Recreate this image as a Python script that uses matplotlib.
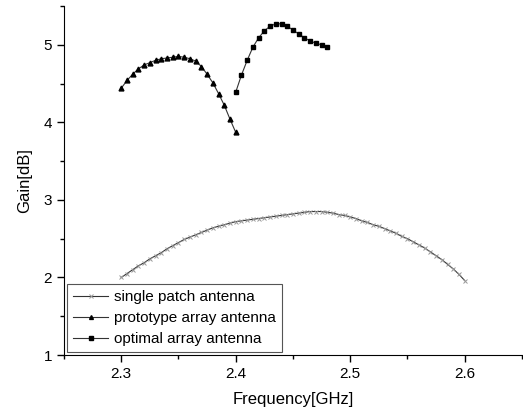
import matplotlib
matplotlib.use('Agg')
import matplotlib.pyplot as plt
from matplotlib.ticker import MultipleLocator

plt.rcParams['font.family'] = ['Liberation Sans', 'DejaVu Sans']

# single patch antenna, 2.300 .. 2.600 GHz, step 0.005
single_freq = [2.300, 2.305, 2.310, 2.315, 2.320, 2.325, 2.330, 2.335, 2.340, 2.345,
               2.350, 2.355, 2.360, 2.365, 2.370, 2.375, 2.380, 2.385, 2.390, 2.395,
               2.400, 2.405, 2.410, 2.415, 2.420, 2.425, 2.430, 2.435, 2.440, 2.445,
               2.450, 2.455, 2.460, 2.465, 2.470, 2.475, 2.480, 2.485, 2.490, 2.495,
               2.500, 2.505, 2.510, 2.515, 2.520, 2.525, 2.530, 2.535, 2.540, 2.545,
               2.550, 2.555, 2.560, 2.565, 2.570, 2.575, 2.580, 2.585, 2.590, 2.595,
               2.600]
single_gain = [2.00, 2.05, 2.10, 2.15, 2.19, 2.24, 2.28, 2.32, 2.37, 2.41,
               2.45, 2.49, 2.52, 2.55, 2.58, 2.61, 2.64, 2.66, 2.68, 2.70,
               2.72, 2.73, 2.74, 2.75, 2.76, 2.77, 2.78, 2.79, 2.80, 2.81,
               2.82, 2.83, 2.84, 2.85, 2.85, 2.85, 2.84, 2.83, 2.81, 2.80,
               2.78, 2.76, 2.73, 2.71, 2.68, 2.66, 2.63, 2.60, 2.57, 2.53,
               2.50, 2.46, 2.42, 2.38, 2.33, 2.28, 2.23, 2.17, 2.11, 2.04,
               1.96]

# prototype array antenna
proto_freq = [2.300, 2.305, 2.310, 2.315, 2.320, 2.325, 2.330, 2.335, 2.340, 2.345,
              2.350, 2.355, 2.360, 2.365, 2.370, 2.375, 2.380, 2.385, 2.390, 2.395,
              2.400]
proto_gain = [4.44, 4.54, 4.62, 4.69, 4.74, 4.77, 4.80, 4.82, 4.83, 4.84,
              4.85, 4.84, 4.82, 4.79, 4.72, 4.62, 4.51, 4.37, 4.22, 4.04,
              3.87]

# optimal array antenna
opt_freq = [2.400, 2.405, 2.410, 2.415, 2.420, 2.425, 2.430, 2.435, 2.440,
            2.445, 2.450, 2.455, 2.460, 2.465, 2.470, 2.475, 2.480]
opt_gain = [4.39, 4.61, 4.80, 4.97, 5.09, 5.18, 5.24, 5.27, 5.27,
            5.24, 5.19, 5.14, 5.09, 5.05, 5.02, 5.00, 4.97]

fig = plt.figure(figsize=(5.23, 4.12), dpi=100)
ax = fig.add_axes([0.1224, 0.1383, 0.8756, 0.8471])

ax.plot(single_freq, single_gain, color='#333333', lw=0.8, marker='x', ms=3,
        mec='#999999', mew=0.7, label='single patch antenna')
ax.plot(proto_freq, proto_gain, color='#333333', lw=0.8, marker='^', ms=3.5,
        mfc='black', mec='black', label='prototype array antenna')
ax.plot(opt_freq, opt_gain, color='#333333', lw=0.8, marker='s', ms=3,
        mfc='black', mec='black', label='optimal array antenna')

ax.set_xlim(2.25, 2.65)
ax.set_ylim(1, 5.5)
ax.xaxis.set_major_locator(MultipleLocator(0.1))
ax.xaxis.set_minor_locator(MultipleLocator(0.05))
ax.yaxis.set_major_locator(MultipleLocator(1))
ax.yaxis.set_minor_locator(MultipleLocator(0.5))
ax.spines['top'].set_visible(False)
ax.spines['right'].set_visible(False)
ax.tick_params(which='major', direction='out', length=5, width=1, labelsize=11)
ax.tick_params(which='minor', direction='out', length=3, width=1)

ax.set_xlabel('Frequency[GHz]', fontsize=12, labelpad=8)
ax.set_ylabel('Gain[dB]', fontsize=12, labelpad=8)

leg = ax.legend(loc='lower left', numpoints=1, fontsize=11, fancybox=False,
                edgecolor='#555555', framealpha=1, borderaxespad=0.2,
                handlelength=2.3, handletextpad=0.35, labelspacing=0.45,
                markerscale=0.8, borderpad=0.4)
leg.get_frame().set_linewidth(0.8)

fig.savefig('out.png', dpi=100)
